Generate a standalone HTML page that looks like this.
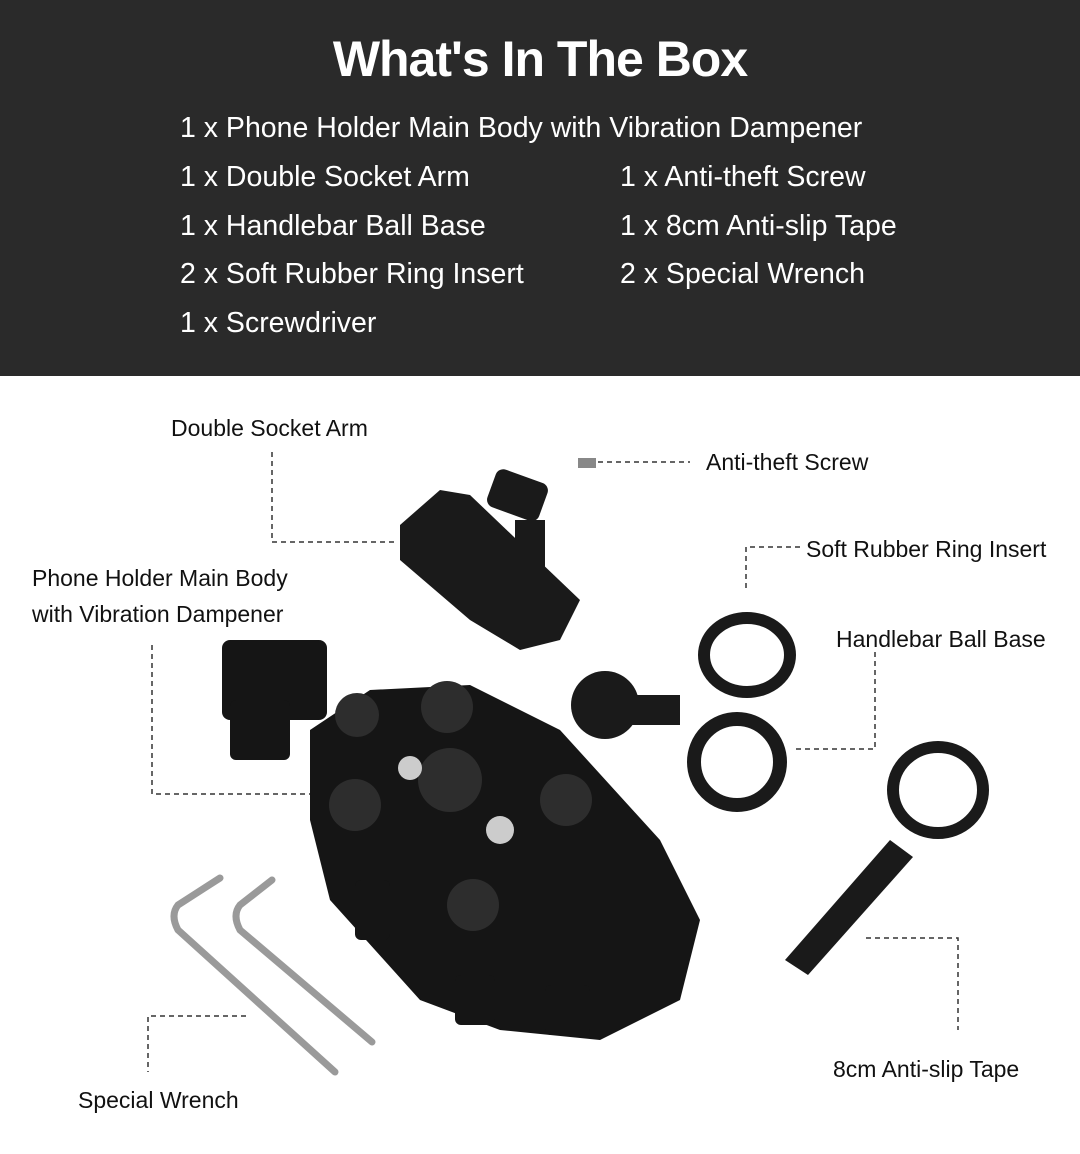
<!DOCTYPE html>
<html><head><meta charset="utf-8"><style>
html,body{margin:0;padding:0;width:1080px;height:1154px;overflow:hidden;background:#fff;font-family:"Liberation Sans",sans-serif}
.hdr{position:absolute;left:0;top:0;width:1080px;height:376px;background:#2a2a2a;color:#fff}
.t{position:absolute;left:0;width:1080px;text-align:center;top:30px;font-size:50px;font-weight:bold;letter-spacing:-1px}
.i{position:absolute;font-size:28.5px;white-space:nowrap;line-height:1}
svg{position:absolute;left:0;top:0}
</style></head><body>
<div class="hdr">
<div class="t">What's In The Box</div>
<div class="i" style="left:180px;top:114px">1 x Phone Holder Main Body with Vibration Dampener</div>
<div class="i" style="left:180px;top:163px">1 x Double Socket Arm</div>
<div class="i" style="left:620px;top:163px">1 x Anti-theft Screw</div>
<div class="i" style="left:180px;top:212px">1 x Handlebar Ball Base</div>
<div class="i" style="left:620px;top:212px">1 x 8cm Anti-slip Tape</div>
<div class="i" style="left:180px;top:260px">2 x Soft Rubber Ring Insert</div>
<div class="i" style="left:620px;top:260px">2 x Special Wrench</div>
<div class="i" style="left:180px;top:309px">1 x Screwdriver</div>
</div>
<svg width="1080" height="1154" viewBox="0 0 1080 1154">
<g font-family="Liberation Sans, sans-serif" font-size="23" fill="#111">
<text x="171" y="436">Double Socket Arm</text>
<text x="706" y="470">Anti-theft Screw</text>
<text x="806" y="557">Soft Rubber Ring Insert</text>
<text x="32" y="586">Phone Holder Main Body</text>
<text x="32" y="622">with Vibration Dampener</text>
<text x="836" y="647">Handlebar Ball Base</text>
<text x="833" y="1077">8cm Anti-slip Tape</text>
<text x="78" y="1108">Special Wrench</text>
</g>
<g stroke="#333" stroke-width="1.5" stroke-dasharray="5,4" fill="none">
<path d="M272 452V542H395"/>
<path d="M598 462H690"/>
<path d="M800 547H746V588"/>
<path d="M152 645V794H310"/>
<path d="M875 652V749H795"/>
<path d="M866 938H958V1030"/>
<path d="M246 1016H148V1072"/>
</g>
<rect x="578" y="458" width="18" height="10" fill="#888"/>
<g fill="#1a1a1a">
<path d="M400 525 L440 490 L470 495 L580 600 L560 640 L520 650 L470 620 L400 560Z"/>
<rect x="490" y="475" width="55" height="40" rx="8" transform="rotate(20 517 495)"/>
<rect x="515" y="520" width="30" height="70"/>
</g>
<g fill="#151515">
<path d="M310 730 L370 690 L470 685 L560 730 L660 840 L700 920 L680 1000 L600 1040 L500 1030 L420 1000 L330 900 L310 820Z"/>
<rect x="222" y="640" width="105" height="80" rx="8"/>
<rect x="230" y="700" width="60" height="60" rx="6"/>
<rect x="455" y="975" width="40" height="50" rx="6"/>
<rect x="545" y="985" width="45" height="50" rx="6"/>
<rect x="355" y="880" width="35" height="60" rx="6"/>
</g>
<g fill="#2d2d2d">
<circle cx="447" cy="707" r="26"/><circle cx="355" cy="805" r="26"/>
<circle cx="566" cy="800" r="26"/><circle cx="473" cy="905" r="26"/>
<circle cx="450" cy="780" r="32"/><circle cx="357" cy="715" r="22"/>
<circle cx="500" cy="830" r="14" fill="#ccc"/><circle cx="410" cy="768" r="12" fill="#ccc"/>
</g>
<circle cx="605" cy="705" r="34" fill="#1a1a1a"/>
<rect x="630" y="695" width="50" height="30" fill="#1a1a1a"/>
<circle cx="737" cy="762" r="43" fill="none" stroke="#1a1a1a" stroke-width="14"/>
<ellipse cx="747" cy="655" rx="43" ry="37" fill="none" stroke="#1a1a1a" stroke-width="12"/>
<ellipse cx="938" cy="790" rx="45" ry="43" fill="none" stroke="#1a1a1a" stroke-width="12"/>
<path d="M785 960 L890 840 L913 857 L808 975Z" fill="#1a1a1a"/>
<g stroke="#9a9a9a" stroke-width="7" fill="none" stroke-linecap="round">
<path d="M220 878 L178 905 Q170 915 178 930 L335 1072"/>
<path d="M272 880 L240 905 Q232 915 240 930 L372 1042"/>
</g>
</svg>
</body></html>
